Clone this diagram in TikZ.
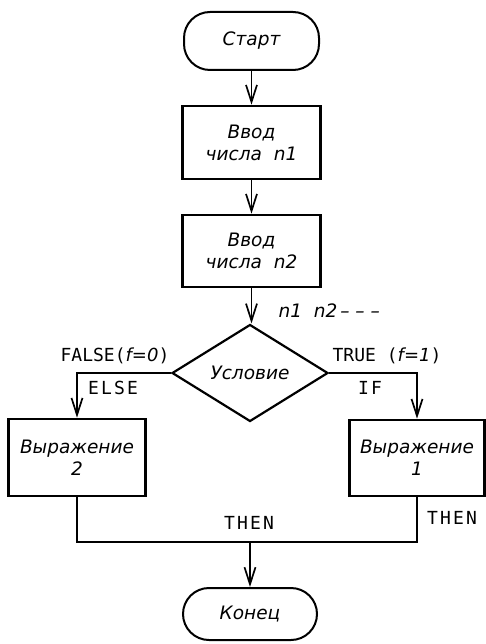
\documentclass[tikz,border=0pt]{standalone}
\usepackage{fontspec}
\setmainfont{DejaVu Sans}
\newfontfamily\labfont{DejaVu Sans}[ItalicFont={DejaVu Sans Oblique}]
\newfontfamily\monofont{DejaVu Sans Mono}
\newfontfamily\wmonofont{DejaVu Sans Mono}[LetterSpace=12]
\usetikzlibrary{shapes.geometric,arrows.meta}
\begin{document}
\begin{tikzpicture}[x=1pt,y=-1pt,
  every node/.style={font=\labfont\itshape\fontsize{18.5}{22}\selectfont},
  block/.style={draw,line width=2.6pt,inner sep=0pt,align=center},
  term/.style={draw,line width=2pt,rounded corners=26pt,inner sep=0pt},
  cond/.style={draw,diamond,line width=2.2pt,inner sep=0pt},
  conn/.style={line width=1.7pt},
  arr/.style={conn,-{Straight Barb[length=17pt,width=11pt,line width=1.7pt]}},
  mono/.style={font=\monofont\fontsize{18}{21}\selectfont},
  wmono/.style={font=\wmonofont\fontsize{18}{21}\selectfont},
  ann/.style={font=\labfont\itshape\fontsize{18.5}{22}\selectfont}]
\useasboundingbox (0,0) rectangle (485,644);
\node[term,minimum width=135pt,minimum height=58pt] (start) at (251.5,41) {Старт};
\node[block,minimum width=138pt,minimum height=73pt] (in1) at (251.5,142.5) {Ввод\\числа \ n1};
\node[block,minimum width=138pt,minimum height=72pt] (in2) at (251.5,251) {Ввод\\числа \ n2};
\node[cond,minimum width=156pt,minimum height=97pt] (cnd) at (250,373) {Условие};
\node[block,minimum width=137pt,minimum height=77pt] (e2) at (77,457.5) {Выражение\\2};
\node[block,minimum width=135pt,minimum height=76pt] (e1) at (417,458) {Выражение\\1};
\node[term,minimum width=134pt,minimum height=52pt] (end) at (250,614) {Конец};
\coordinate (j) at (250,542);
\draw[arr] (start) -- (in1);
\draw[arr] (in1) -- (in2);
\draw[arr] (in2.south) -- (in2.south |- cnd.north);
\draw[arr] (cnd.west) -| (e2.north);
\draw[arr] (cnd.east) -| (e1.north);
\draw[conn] (e2.south) -- (e2.south |- j) -- (e1.south |- j) -- (e1.south);
\draw[arr] (j) -- (end);
\node[ann,anchor=west] (nn) at (275,311) {n1\ \ n2\,\textendash\ \textendash\ \textendash};
\node[mono] (fl) at (115,356) {FALSE({\labfont\itshape f=0})};
\node[wmono] (el) at (113,388) {ELSE};
\node[mono] (tr) at (387,356) {TRUE ({\labfont\itshape f=1})};
\node[wmono] (if) at (370,388) {IF};
\node[wmono] (th1) at (249,523) {THEN};
\node[wmono] (th2) at (452,518) {THEN};
\end{tikzpicture}
\end{document}
